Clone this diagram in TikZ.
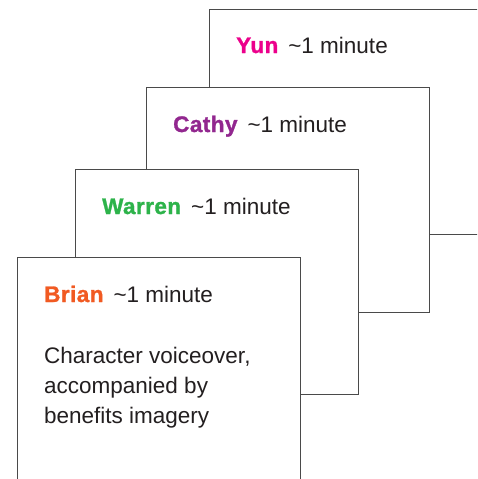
\documentclass[tikz,border=0pt]{standalone}
\usepackage{fontspec}
\setmainfont{Liberation Sans}
\newfontfamily\heavy[FakeBold=1.2,LetterSpace=2]{Liberation Sans Bold}
\usetikzlibrary{calc}
\definecolor{borderc}{HTML}{4A4A4A}
\definecolor{textc}{HTML}{231F20}
\definecolor{brianc}{HTML}{F15A22}
\definecolor{warrenc}{HTML}{2DB34A}
\definecolor{cathyc}{HTML}{92278F}
\definecolor{yunc}{HTML}{EC008C}
\tikzset{
  card/.style={draw=borderc, line width=1.2pt, fill=white, rectangle,
    minimum width=283pt, minimum height=225pt, anchor=north west, inner sep=0pt},
  title/.style={anchor=base west, inner sep=0pt, text=textc,
    font=\fontsize{22.5}{30}\selectfont},
  body/.style={anchor=base west, inner sep=0pt, text=textc, align=left,
    font=\fontsize{22.5}{30}\selectfont}
}
\newcommand{\who}[2]{{\heavy\textcolor{#1}{#2}}}
\newcommand{\dur}{\hspace{10pt}\textasciitilde1 minute}
\begin{document}
\begin{tikzpicture}[x=1pt,y=-1pt]
\useasboundingbox (0,0) rectangle (477,479);
\clip (0,0) rectangle (477,479);
\node[card] (yun) at (209,9) {};
\node[title] (yunt) at ($(yun.north west)+(27,44)$) {\who{yunc}{Yun}\dur};
\node[card] (cathy) at (146,87) {};
\node[title] (cathyt) at ($(cathy.north west)+(27,45)$) {\who{cathyc}{Cathy}\dur};
\node[card] (warren) at (75,169) {};
\node[title] (warrent) at ($(warren.north west)+(27,45)$) {\who{warrenc}{Warren}\dur};
\node[card] (brian) at (17,257) {};
\node[title] (briant) at ($(brian.north west)+(27,45)$) {\who{brianc}{Brian}\dur};
\node[body] (brianb) at ($(brian.north west)+(27,166)$) {Character voiceover,\\accompanied by\\benefits imagery};
\end{tikzpicture}
\end{document}
